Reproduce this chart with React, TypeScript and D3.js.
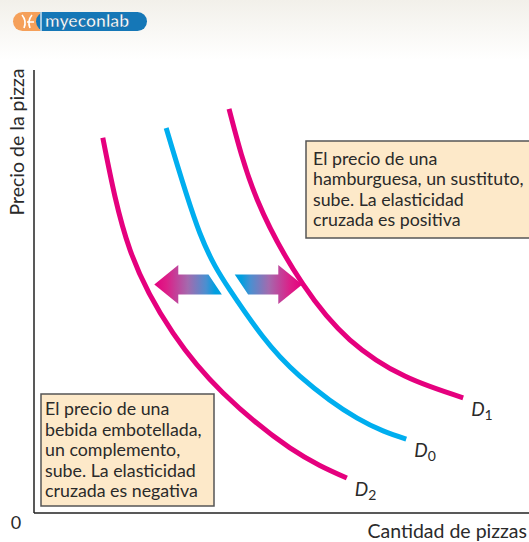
import * as d3 from 'd3'

// demand curves as [quantity, price] points (arbitrary units 0..10)
const curveD2: [number, number][] = [
  [1.39, 8.47], [1.94, 5.94], [2.81, 4.06], [3.82, 2.71], [5.17, 1.47], [6.32, 0.79],
]
const curveD0: [number, number][] = [
  [2.67, 8.69], [3.35, 6.32], [3.96, 5.03], [4.61, 4.0], [5.37, 3.09], [6.53, 2.14], [7.52, 1.67],
]
const curveD1: [number, number][] = [
  [3.94, 9.12], [4.51, 7.07], [5.43, 5.17], [6.38, 3.91], [7.49, 3.09], [8.67, 2.6],
]
const curveNames = ['D2', 'D0', 'D1']
const curveColors = ['#e5007e', '#00aeef', '#e5007e']

// shift arrows: [tip q, tail q] at a common price
const arrowPrice = 5.16
const arrowLeft = [2.43, 3.66]
const arrowRight = [5.42, 4.19]

const boxTop = [
  'El precio de una',
  'hamburguesa, un sustituto,',
  'sube. La elasticidad',
  'cruzada es positiva',
]
const boxBottom = [
  'El precio de una',
  'bebida embotellada,',
  'un complemento,',
  'sube. La elasticidad',
  'cruzada es negativa',
]

const W = 529
const H = 542
const font = 'Lato, "Open Sans", sans-serif'
const ink = '#2a2a2a'

const x = d3.scaleLinear().domain([0, 10]).range([34, 529])
const y = d3.scaleLinear().domain([0, 10]).range([513, 70])

const line = d3
  .line<[number, number]>()
  .x((d) => x(d[0]))
  .y((d) => y(d[1]))
  .curve(d3.curveNatural)

function arrowPath(tipQ: number, tailQ: number) {
  const tx = x(tipQ)
  const cx = x(tailQ)
  const cy = y(arrowPrice)
  const dir = tailQ > tipQ ? 1 : -1
  const head = 24
  const hh = 19.5
  const sh = 10
  const slant = 6.7
  const bx = tx + dir * head
  const p = d3.path()
  p.moveTo(tx, cy)
  p.lineTo(bx, cy - hh)
  p.lineTo(bx, cy - sh)
  p.lineTo(cx - slant, cy - sh)
  p.lineTo(cx + slant, cy + sh)
  p.lineTo(bx, cy + sh)
  p.lineTo(bx, cy + hh)
  p.closePath()
  return p.toString()
}

const App = () => {
  const curves = [curveD2, curveD0, curveD1]
  const arrows = [arrowLeft, arrowRight]
  return (
    <svg width={W} height={H} style={{ position: 'absolute', left: 0, top: 0 }}>
      <defs>
        <linearGradient id="band" x1="0" y1="0" x2="0" y2="1">
          <stop offset="0" stopColor="#f2f0ea" />
          <stop offset="1" stopColor="#ffffff" />
        </linearGradient>
        {arrows.map((a, i) => (
          <linearGradient
            key={i}
            id={'arr' + i}
            gradientUnits="userSpaceOnUse"
            x1={x(a[0])}
            x2={x(a[1])}
            y1={0}
            y2={0}
          >
            <stop offset="0" stopColor="#e5007e" />
            <stop offset="0.2" stopColor="#dc1f88" />
            <stop offset="0.55" stopColor="#a46aae" />
            <stop offset="0.85" stopColor="#4b8fd0" />
            <stop offset="1" stopColor="#009fe0" />
          </linearGradient>
        ))}
      </defs>
      <rect x={0} y={0} width={W} height={H} fill="#fff" />
      <rect x={0} y={0} width={W} height={60} fill="url(#band)" />

      {/* logo */}
      <rect x={13} y={12} width={40} height={19} rx={9.5} fill="#f5a05a" />
      <rect x={36} y={12} width={111} height={19} rx={9.5} fill="#1577b7" />
      <rect x={40} y={12} width={8} height={19} fill="#1577b7" />
      <rect x={40} y={12} width={2} height={19} fill="#fff" opacity={0.6} />
      <path d="M22,15 Q27,21 24,28 M32,15 Q27,21 30,28 M27,22 L34,22" stroke="#fff" strokeWidth={1.6} fill="none" />
      <text x={45} y={27} fontFamily={font} fontWeight={700} fontSize={17.5} fill="#fff" stroke="#0d5f98" strokeWidth={0.5}>
        myeconlab
      </text>

      {/* axes */}
      <line x1={x(0)} y1={y(0)} x2={x(0)} y2={y(10)} stroke="#222" strokeWidth={1.5} />
      <line x1={x(0)} y1={y(0)} x2={x(10)} y2={y(0)} stroke="#222" strokeWidth={1.5} />
      <text x={16} y={529} textAnchor="middle" fontFamily={font} fontSize={18} fill={ink}>0</text>
      <text x={527} y={538} textAnchor="end" fontFamily={font} fontSize={19.5} fill={ink}>
        Cantidad de pizzas
      </text>
      <text
        transform="translate(24,142) rotate(-90)"
        textAnchor="middle"
        fontFamily={font}
        fontSize={19.5}
        fill={ink}
      >
        Precio de la pizza
      </text>

      {/* boxes */}
      <rect x={306} y={141} width={240} height={97} fill="#fde9c9" stroke="#555" strokeWidth={1.5} />
      {boxTop.map((t, i) => (
        <text key={i} x={313} y={165 + i * 20.4} fontFamily={font} fontSize={17.8} fill={ink}>{t}</text>
      ))}
      <rect x={41} y={394} width={173} height={112} fill="#fde9c9" stroke="#555" strokeWidth={1.5} />
      {boxBottom.map((t, i) => (
        <text key={i} x={45} y={415 + i * 20.5} fontFamily={font} fontSize={17.8} fill={ink}>{t}</text>
      ))}

      {/* curves */}
      {curves.map((c, i) => (
        <path key={i} d={line(c) || ''} fill="none" stroke={curveColors[i]} strokeWidth={5} />
      ))}
      {curves.map((c, i) => {
        const last = c[c.length - 1]
        return (
          <text
            key={i}
            x={x(last[0]) + 8}
            y={y(last[1]) + 18}
            fontFamily={font}
            fontSize={19}
            fontStyle="italic"
            fill={ink}
          >
            {curveNames[i][0]}
            <tspan fontSize={14} dy={4} fontStyle="normal">{curveNames[i].slice(1)}</tspan>
          </text>
        )
      })}

      {/* arrows */}
      {arrows.map((a, i) => (
        <path key={i} d={arrowPath(a[0], a[1])} fill={'url(#arr' + i + ')'} />
      ))}
    </svg>
  )
}

export default App
